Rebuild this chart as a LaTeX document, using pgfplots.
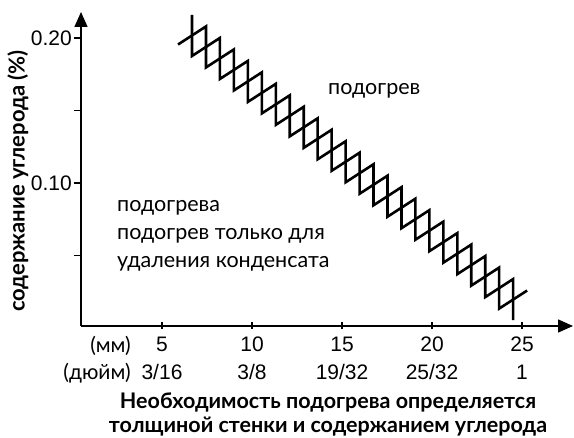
\documentclass[border=0pt]{standalone}
\usepackage{fontspec}
\setmainfont{Liberation Sans}
\newfontfamily\gill{Lato}
\usepackage{pgfplots}
\pgfplotsset{compat=1.18}
\usetikzlibrary{arrows.meta}
\begin{document}
\begin{tikzpicture}
\begin{axis}[
  at={(81pt,-326pt)}, anchor=south west,
  scale only axis, width=492pt, height=314pt,
  xmin=0.5, xmax=27.83, ymin=0.0014, ymax=0.2179,
  axis lines=left, clip=false,
  axis line style={line width=1.6pt, -{Triangle[length=15pt,width=13pt]}},
  xtick={5,10,15,20,25},
  xticklabels={{5\\3/16},{10\\3/8},{15\\19/32},{20\\25/32},{25\\1}},
  ytick={0.05,0.1,0.15,0.2},
  yticklabels={,0.10,,0.20},
  major tick length=7pt,
  xtick align=center, ytick align=outside,
  every tick/.style={black, line width=1.3pt},
  /pgf/number format/assume math mode=true,
  xticklabel style={align=center, font=\fontsize{21}{28}\selectfont, inner sep=4pt, yshift=-3pt},
  yticklabel style={font=\fontsize{21}{21}\selectfont, inner sep=2pt},
]
\addplot[black, line width=2.6pt, line join=miter, mark=none] coordinates {
(5.891,0.19550) (7.442,0.20794) (7.442,0.17966) (8.994,0.19211) (8.994,0.16383)
(10.545,0.17628) (10.545,0.14799) (12.096,0.16044) (12.096,0.13216)
(13.647,0.14461) (13.647,0.11633) (15.199,0.12877) (15.199,0.10049)
(16.750,0.11294) (16.750,0.08466) (18.301,0.09710) (18.301,0.06882)
(19.852,0.08127) (19.852,0.05299) (21.404,0.06544) (21.404,0.03716)
(22.955,0.04960) (22.955,0.02132) (24.506,0.03377) (24.506,0.00549)
};
\addplot[black, line width=2.6pt, line join=miter, mark=none] coordinates {
(6.667,0.21586) (6.667,0.18758) (8.218,0.20003) (8.218,0.17175)
(9.769,0.18419) (9.769,0.15591) (11.321,0.16836) (11.321,0.14008)
(12.872,0.15253) (12.872,0.12424) (14.423,0.13669) (14.423,0.10841)
(15.974,0.12086) (15.974,0.09258) (17.525,0.10502) (17.525,0.07674)
(19.077,0.08919) (19.077,0.06091) (20.628,0.07335) (20.628,0.04507)
(22.179,0.05752) (22.179,0.02924) (23.730,0.04169) (23.730,0.01341)
(25.281,0.02585)
};
\end{axis}
\node[anchor=base west, font=\gill\fontsize{21.5}{21.5}\selectfont, inner sep=0pt] at (328pt,-95pt) {подогрев};
\node[anchor=base west, font=\gill\fontsize{21.5}{21.5}\selectfont, inner sep=0pt] at (117pt,-212pt) {подогрева};
\node[anchor=base west, font=\gill\fontsize{21.5}{21.5}\selectfont, inner sep=0pt] at (117pt,-240pt) {подогрев только для};
\node[anchor=base west, font=\gill\fontsize{21.5}{21.5}\selectfont, inner sep=0pt] at (117pt,-268pt) {удаления конденсата};
\node[anchor=base east, font=\gill\fontsize{21}{21}\selectfont, inner sep=0pt] at (131pt,-353pt) {(мм)};
\node[anchor=base east, font=\gill\fontsize{21}{21}\selectfont, inner sep=0pt] at (131pt,-380pt) {(дюйм)};
\node[rotate=90, font=\gill\bfseries\fontsize{22}{22}\selectfont, inner sep=0pt] at (18pt,-181pt) {содержание углерода (\%)};
\node[anchor=base, font=\gill\bfseries\fontsize{21.5}{21.5}\selectfont, inner sep=0pt] at (328pt,-409pt) {Необходимость подогрева определяется};
\node[anchor=base, font=\gill\bfseries\fontsize{21.5}{21.5}\selectfont, inner sep=0pt] at (328pt,-433pt) {толщиной стенки и содержанием углерода};
\pgfresetboundingbox
\path[use as bounding box] (0pt,0pt) rectangle (574pt,-438pt);
\end{tikzpicture}
\end{document}
